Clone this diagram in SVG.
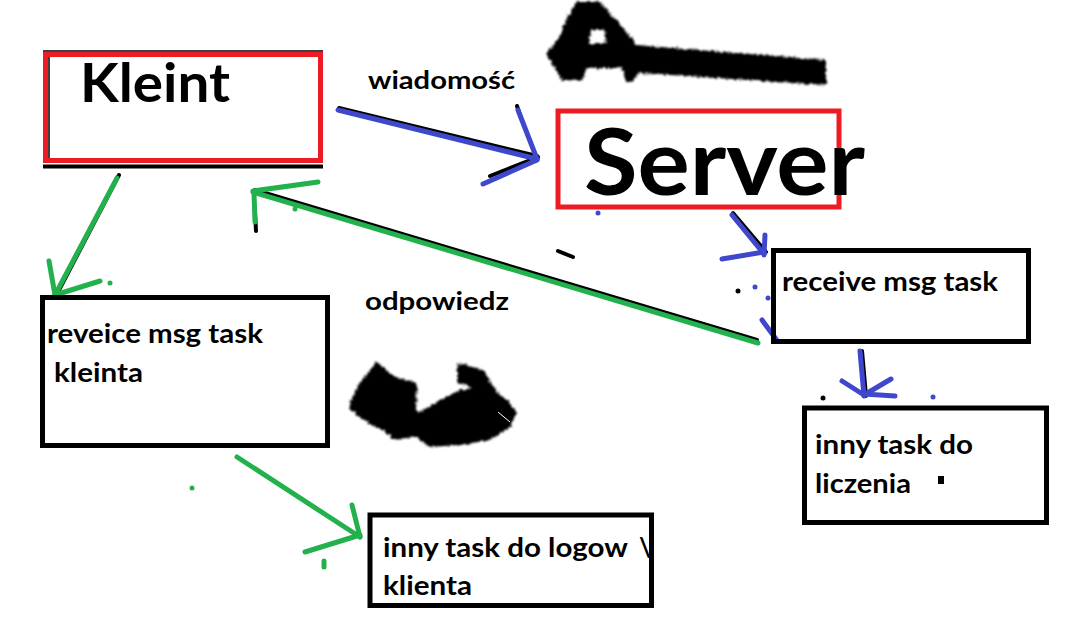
<svg xmlns="http://www.w3.org/2000/svg" width="1075" height="631" viewBox="0 0 1075 631">
<defs>
<style>
.t{font-family:Lato,"Open Sans","Liberation Sans",sans-serif;font-weight:bold;fill:#000}
.box{fill:none;stroke:#000;stroke-width:5}
.red{fill:none;stroke:#ED1C24;stroke-width:5}
.g{stroke:#22B14C;stroke-width:5;stroke-linecap:round;fill:none}
.b{stroke:#3F48CC;stroke-width:5;stroke-linecap:round;fill:none}
.k{stroke:#000;stroke-width:4;stroke-linecap:round;fill:none}
</style>
<filter id="scrib" x="-10%" y="-20%" width="120%" height="140%">
<feTurbulence type="fractalNoise" baseFrequency="0.35" numOctaves="2" seed="4" result="n"/>
<feDisplacementMap in="SourceGraphic" in2="n" scale="5" xChannelSelector="R" yChannelSelector="G" result="d"/>
<feGaussianBlur in="d" stdDeviation="1.2"/>
</filter>
<clipPath id="logClip"><rect x="372" y="517" width="277" height="87"/></clipPath>
</defs>
<rect width="1075" height="631" fill="#fff"/>

<g id="scribbles" filter="url(#scrib)">
<path d="M562,80 L546,54 L558,40 L567,18 L577,2 L600,2 L618,22 L637,45 L826,60 L826,85 L640,73 L631,82 L626,82 L622,68 L586,68 L583,80 Z M591,30 L604,30 L606,44 L589,44 Z" fill="#000" fill-rule="evenodd"/>
<path d="M348,407 L360,382 L377,362 L395,377 L417,383 L416,410 L426,420 L422,436 L405,438 L395,440 L383,430 L363,420 Z" fill="#000"/>
<path d="M414,436 L414,416 L440,400 L460,390 L473,388 L457,382 L457,370 L458,363 L483,370 L497,392 L510,403 L517,413 L510,427 L490,440 L460,445 L430,447 Z" fill="#000"/>
</g>
<line x1="498" y1="412" x2="510" y2="422" stroke="#fff" stroke-width="1"/>

<g id="connectors">
<!-- wiadomosc: Kleint -> Server -->
<line class="k" x1="339" y1="108" x2="537" y2="156" stroke-width="3"/>
<line class="k" x1="517" y1="106" x2="521" y2="118" stroke-width="3"/>
<line class="k" x1="490" y1="176" x2="538" y2="157" stroke-width="3"/>
<line class="b" x1="338" y1="110" x2="537" y2="159"/>
<line class="b" x1="518" y1="110" x2="537" y2="159"/>
<line class="b" x1="537" y1="160" x2="483" y2="184"/>
<!-- Kleint -> reveice -->
<line class="k" x1="119" y1="175" x2="58" y2="292" stroke-width="3"/>
<line class="g" x1="117" y1="178" x2="55" y2="295"/>
<line class="g" x1="49" y1="261" x2="55" y2="295"/>
<line class="g" x1="100" y1="281" x2="55" y2="295"/>
<circle cx="110" cy="283" r="2.5" fill="#22B14C"/>
<!-- receive -> Kleint (odpowiedz) -->
<line class="k" x1="757" y1="340" x2="255" y2="190" stroke-width="3"/>
<line class="k" x1="255" y1="212" x2="256" y2="231" stroke-width="4"/>
<line class="g" x1="758" y1="343" x2="253" y2="192"/>
<line class="g" x1="253" y1="191" x2="318" y2="182"/>
<line class="g" x1="254" y1="193" x2="255" y2="222"/>
<circle cx="295" cy="209" r="2.5" fill="#22B14C"/>
<!-- Server -> receive -->
<line class="k" x1="733" y1="213" x2="766" y2="252" stroke-width="3"/>
<line class="b" x1="732" y1="215" x2="764" y2="254"/>
<line class="b" x1="765" y1="235" x2="764" y2="255"/>
<line class="b" x1="722" y1="259" x2="764" y2="252"/>
<!-- receive -> liczenia -->
<line class="k" x1="862" y1="351" x2="866" y2="396" stroke-width="3"/>
<line class="b" x1="860" y1="351" x2="864" y2="396"/>
<line class="b" x1="842" y1="381" x2="864" y2="395"/>
<line class="b" x1="891" y1="379" x2="864" y2="395"/>
<line class="b" x1="895" y1="396" x2="864" y2="394"/>
<!-- reveice -> logow -->
<line class="g" x1="237" y1="457" x2="360" y2="537"/>
<line class="g" x1="352" y1="505" x2="360" y2="537"/>
<line class="g" x1="305" y1="552" x2="360" y2="535"/>
<circle cx="192" cy="488" r="2.5" fill="#22B14C"/>
<line class="g" x1="324" y1="561" x2="324" y2="567"/>
</g>

<g id="marks">
<circle cx="598" cy="213" r="2.5" fill="#3F48CC"/>
<circle cx="755" cy="287" r="2.5" fill="#3F48CC"/>
<circle cx="768" cy="298" r="2.5" fill="#3F48CC"/>
<line class="b" x1="762" y1="320" x2="776" y2="339" stroke-width="4"/>
<circle cx="738" cy="291" r="2.5" fill="#000"/>
<circle cx="823" cy="398" r="2.5" fill="#000"/>
<circle cx="933" cy="397" r="2.5" fill="#3F48CC"/>
<line class="k" x1="558" y1="251" x2="573" y2="257" stroke-width="5"/>
<rect x="938" y="476" width="6" height="8" fill="#000"/>
</g>

<g id="kleint">
<line x1="43" y1="166.5" x2="323" y2="166.5" stroke="#000" stroke-width="4"/>
<line x1="43" y1="51" x2="323" y2="51" stroke="#000" stroke-width="1.5"/>
<rect class="red" x="45.5" y="54.5" width="275" height="106"/>
<line x1="49" y1="57" x2="49" y2="158" stroke="#000" stroke-width="1.5"/>
<text class="t" x="80" y="102" font-size="54" textLength="150" lengthAdjust="spacingAndGlyphs">Kleint</text>
</g>

<g id="server">
<rect class="red" x="558" y="111" width="281" height="96"/>
<text class="t" x="584" y="195" font-size="92" textLength="281" lengthAdjust="spacingAndGlyphs">Server</text>
</g>

<g id="labels">
<text class="t" x="368" y="89" font-size="25" textLength="147" lengthAdjust="spacingAndGlyphs">wiadomość</text>
<text class="t" x="365" y="310" font-size="25" textLength="144" lengthAdjust="spacingAndGlyphs">odpowiedz</text>
</g>

<g id="receive">
<rect class="box" x="773.5" y="250.5" width="255" height="91"/>
<text class="t" x="782" y="291" font-size="26" textLength="216" lengthAdjust="spacingAndGlyphs">receive msg task</text>
</g>

<g id="liczenia">
<rect class="box" x="804.5" y="408" width="242" height="114.5"/>
<text class="t" x="815" y="454" font-size="26" textLength="158" lengthAdjust="spacingAndGlyphs">inny task do</text>
<text class="t" x="815" y="493" font-size="26" textLength="96" lengthAdjust="spacingAndGlyphs">liczenia</text>
</g>

<g id="reveice">
<rect class="box" x="42.5" y="297.5" width="285" height="148"/>
<text class="t" x="47" y="343" font-size="26" textLength="216" lengthAdjust="spacingAndGlyphs">reveice msg task</text>
<text class="t" x="54" y="382" font-size="26" textLength="89" lengthAdjust="spacingAndGlyphs">kleinta</text>
</g>

<g id="logow">
<rect class="box" x="370" y="515" width="281.5" height="90.5"/>
<g clip-path="url(#logClip)">
<text class="t" x="383" y="557" font-size="26"><tspan textLength="245" lengthAdjust="spacingAndGlyphs">inny task do logow</tspan><tspan x="639">\</tspan></text>
</g>
<text class="t" x="383" y="595" font-size="26" textLength="89" lengthAdjust="spacingAndGlyphs">klienta</text>
</g>
</svg>
